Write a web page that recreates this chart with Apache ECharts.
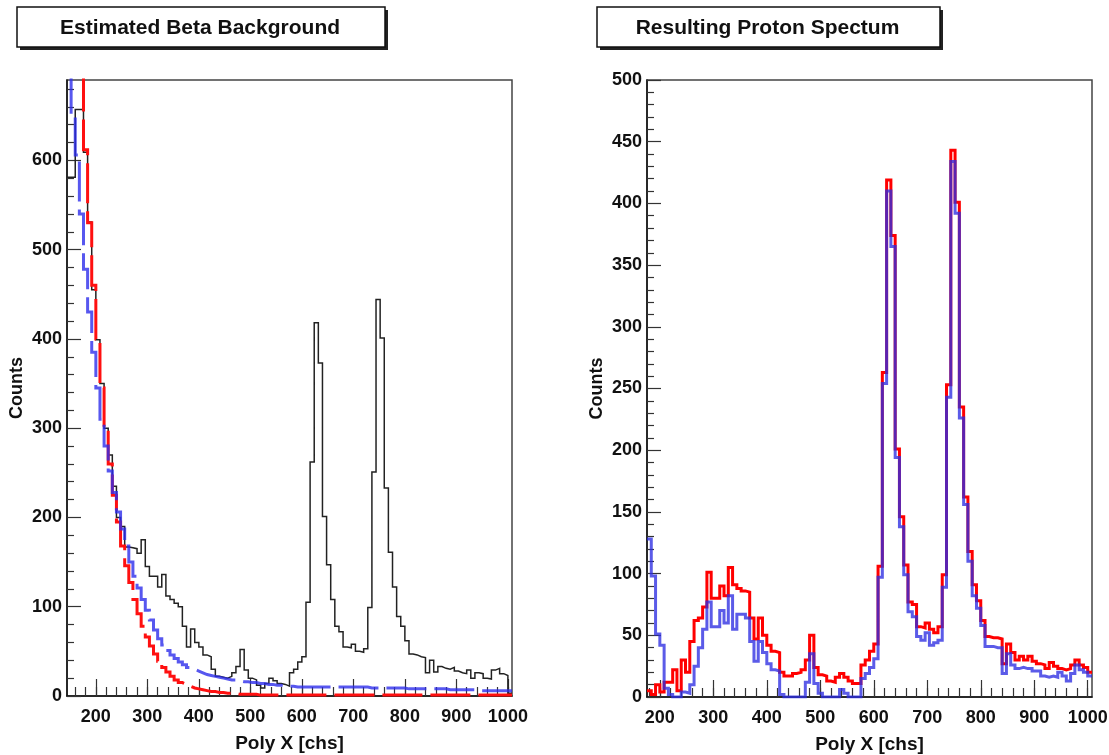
<!DOCTYPE html>
<html>
<head>
<meta charset="utf-8">
<script src="https://cdn.jsdelivr.net/npm/echarts@6/dist/echarts.min.js"></script>
<style>
  html, body { margin: 0; padding: 0; background: #ffffff; }
  #chart { width: 1109px; height: 755px; }
</style>
</head>
<body>
<div id="chart"></div>
<script>
// ---------- data (histograms, bin width 8 channels) ----------
const BIN_WIDTH = 8;
const LEFT_START = 144;   // first bin edge, left panel
const RIGHT_START = 176;  // first bin edge, right panel

const leftTitle = "Estimated Beta Background";
const rightTitle = "Resulting Proton Spectum";
const xAxisTitle = "Poly X [chs]";
const yAxisTitle = "Counts";

// measured spectrum (black), left panel
const leftCounts = [
  581, 581, 657, 657, 609, 531, 455, 399, 350, 300,
  270, 235, 200, 190, 167, 166, 165, 160, 175, 145,
  134, 134, 122, 136, 112, 108, 104, 100, 78, 55,
  75, 60, 55, 46, 44, 30, 22, 21, 20, 22,
  26, 33, 52, 29, 20, 18, 12, 9, 14, 20,
  17, 14, 13, 11, 26, 30, 38, 44, 105, 262,
  418, 373, 201, 147, 108, 78, 72, 55, 54, 58,
  50, 49, 53, 99, 251, 444, 401, 233, 161, 122,
  89, 78, 62, 47, 46, 44, 43, 26, 40, 27,
  33, 31, 30, 32, 28, 26, 25, 29, 20, 26,
  25, 20, 19, 29, 31, 25, 23, 3
];

// estimated background 1 (red dashed), left panel
const leftRedFit = [
  950, 850, 760, 700, 612, 530, 460, 400, 345, 300,
  260, 225, 195, 168, 146, 127, 108, 92, 78, 66,
  56, 47, 39, 32, 27, 22, 18, 15, 13, 11,
  9, 8, 7, 6, 5, 5, 4, 4, 3, 3,
  3, 2, 2, 2, 2, 2, 1, 1, 1, 1,
  1, 1, 1, 1, 1, 1, 1, 1, 1, 1,
  1, 1, 1, 1, 1, 1, 1, 1, 1, 1,
  1, 1, 1, 1, 1, 1, 1, 1, 1, 1,
  1, 1, 1, 1, 1, 1, 1, 1, 1, 1,
  1, 1, 1, 1, 1, 1, 1, 1, 1, 1,
  1, 1, 1, 1, 1, 1, 1, 1
];

// estimated background 2 (blue dashed), left panel
const leftBlueFit = [
  800, 650, 606, 540, 478, 430, 385, 345, 310, 280,
  252, 228, 206, 187, 168, 150, 134, 121, 108, 96,
  85, 74, 64, 57, 51, 46, 42, 38, 35, 32,
  30, 28, 26, 24, 23, 22, 21, 20, 19, 18,
  18, 17, 16, 16, 15, 15, 14, 14, 13, 13,
  12, 12, 11, 11, 11, 10, 10, 10, 10, 10,
  10, 10, 10, 10, 10, 10, 10, 10, 10, 10,
  10, 10, 10, 9, 9, 9, 9, 9, 9, 9,
  9, 9, 8, 8, 8, 8, 8, 8, 8, 8,
  8, 8, 7, 7, 7, 7, 7, 7, 7, 6,
  6, 6, 6, 6, 6, 6, 6, 6
];

// subtracted spectrum (red), right panel
const rightRed = [
  5, 2, 10, 4, 12, 12, 22, 5, 30, 20,
  45, 62, 64, 73, 101, 80, 80, 90, 82, 105,
  91, 88, 86, 85, 64, 47, 64, 50, 42, 37,
  36, 20, 17, 17, 19, 20, 22, 30, 50, 24,
  18, 17, 13, 12, 16, 19, 16, 13, 11, 11,
  26, 30, 37, 43, 106, 263, 419, 374, 201, 146,
  107, 77, 75, 57, 56, 60, 55, 52, 57, 99,
  253, 443, 401, 235, 162, 118, 91, 78, 62, 49,
  48, 48, 47, 27, 43, 36, 30, 33, 30, 33,
  29, 27, 26, 23, 28, 25, 23, 22, 23, 26,
  30, 26, 24, 20
];

// subtracted spectrum (blue), right panel
const rightBlue = [
  128, 98, 51, 42, 7, 2, 0, 0, 4, 3,
  10, 25, 40, 55, 77, 57, 57, 70, 60, 82,
  55, 67, 67, 64, 45, 29, 45, 36, 27, 22,
  21, 2, 0, 0, 0, 0, 0, 12, 35, 11,
  3, 0, 0, 0, 0, 6, 3, 0, 0, 0,
  15, 19, 24, 31, 97, 254, 410, 365, 194, 138,
  99, 69, 65, 49, 46, 52, 42, 44, 46, 89,
  243, 434, 392, 226, 156, 110, 82, 72, 58, 41,
  41, 40, 40, 19, 35, 26, 23, 24, 23, 23,
  21, 21, 17, 16, 17, 16, 20, 17, 13, 19,
  26, 22, 20, 17
];

// axis ranges and tick values
const leftXRange = [144, 1008];
const rightXRange = [176, 1008];
const leftYRange = [0, 690];
const rightYRange = [0, 500];
const xMajorTicks = [200, 300, 400, 500, 600, 700, 800, 900, 1000];
const leftXMinorTicks = [160,180,200,220,240,260,280,300,320,340,360,380,400,420,440,460,480,500,520,540,560,580,600,620,640,660,680,700,720,740,760,780,800,820,840,860,880,900,920,940,960,980,1000];
const rightXMinorTicks = [180,200,220,240,260,280,300,320,340,360,380,400,420,440,460,480,500,520,540,560,580,600,620,640,660,680,700,720,740,760,780,800,820,840,860,880,900,920,940,960,980,1000];
const leftYMajorTicks = [0, 100, 200, 300, 400, 500, 600];
const leftYMinorTicks = [20,40,60,80,120,140,160,180,220,240,260,280,320,340,360,380,420,440,460,480,520,540,560,580,620,640,660,680];
const rightYMajorTicks = [0, 50, 100, 150, 200, 250, 300, 350, 400, 450, 500];
const rightYMinorTicks = [10,20,30,40,60,70,80,90,110,120,130,140,160,170,180,190,210,220,230,240,260,270,280,290,310,320,330,340,360,370,380,390,410,420,430,440,460,470,480,490];

// ---------- helpers ----------
function toSteps(start, counts) {
  const pts = counts.map((v, i) => [start + i * BIN_WIDTH, v]);
  pts.push([start + counts.length * BIN_WIDTH, counts[counts.length - 1]]);
  return pts;
}

const FONT = "'Liberation Sans', Arial, Helvetica, sans-serif";
const labelStyle = { fontFamily: FONT, fontSize: 18, fontWeight: 'bold', color: '#111' };
const xNameStyle = { fontFamily: FONT, fontSize: 19, fontWeight: 'bold', color: '#111' };
const yNameStyle = { fontFamily: FONT, fontSize: 18, fontWeight: 'bold', color: '#111' };
const plainNumber = v => String(v);

function xMajor(grid, range, name) {
  return {
    type: 'value', gridIndex: grid, min: range[0], max: range[1], position: 'bottom',
    axisLine: { show: true, onZero: false, lineStyle: { color: '#111', width: 1.5 } },
    axisTick: { show: true, inside: true, length: 17, customValues: xMajorTicks, lineStyle: { color: '#333', width: 1.2 } },
    axisLabel: Object.assign({ customValues: xMajorTicks, margin: 12, formatter: plainNumber }, labelStyle),
    splitLine: { show: false },
    name: name, nameLocation: 'middle', nameGap: 38, nameTextStyle: xNameStyle, nameMoveOverlap: false
  };
}
function xMinor(grid, range, ticks) {
  return {
    type: 'value', gridIndex: grid, min: range[0], max: range[1], position: 'bottom',
    axisLine: { show: false, onZero: false },
    axisTick: { show: true, inside: true, length: 9, customValues: ticks, lineStyle: { color: '#333', width: 1.2 } },
    axisLabel: { show: false }, splitLine: { show: false }
  };
}
function yMajor(grid, range, ticks, name) {
  return {
    type: 'value', gridIndex: grid, min: range[0], max: range[1], position: 'left',
    axisLine: { show: true, onZero: false, lineStyle: { color: '#111', width: 1.5 } },
    axisTick: { show: true, inside: true, length: 14, customValues: ticks, lineStyle: { color: '#333', width: 1.2 } },
    axisLabel: Object.assign({ customValues: ticks, margin: 5, formatter: plainNumber }, labelStyle),
    splitLine: { show: false },
    name: name, nameLocation: 'middle', nameGap: 41, nameRotate: 90, nameTextStyle: yNameStyle, nameMoveOverlap: false
  };
}
function yMinor(grid, range, ticks) {
  return {
    type: 'value', gridIndex: grid, min: range[0], max: range[1], position: 'left',
    axisLine: { show: false, onZero: false },
    axisTick: { show: true, inside: true, length: 7, customValues: ticks, lineStyle: { color: '#333', width: 1.2 } },
    axisLabel: { show: false }, splitLine: { show: false }
  };
}
function hist(name, xi, yi, start, counts, color, width, dash) {
  return {
    name: name, type: 'line', xAxisIndex: xi, yAxisIndex: yi,
    data: toSteps(start, counts), step: 'end', symbol: 'none', showSymbol: false,
    clip: true, silent: true, animation: false,
    lineStyle: { color: color, width: width, type: dash || 'solid', cap: 'butt', join: 'miter' }
  };
}
function titleBox(x, y, w, h, text) {
  return {
    type: 'group', children: [
      { type: 'rect', shape: { x: x + 3, y: y + 3, width: w, height: h }, style: { fill: '#222' } },
      { type: 'rect', shape: { x: x, y: y, width: w, height: h }, style: { fill: '#fff', stroke: '#111', lineWidth: 1.5 } },
      { type: 'text', x: x + w / 2 - 1, y: y + h / 2 + 1, style: { text: text, fill: '#111', font: 'bold 21px ' + FONT, align: 'center', verticalAlign: 'middle' } }
    ]
  };
}

const chart = echarts.init(document.getElementById('chart'), null, { renderer: 'canvas' });
chart.setOption({
  backgroundColor: '#ffffff',
  animation: false,
  textStyle: { fontFamily: FONT },
  grid: [
    { left: 67, top: 80, width: 445, height: 616, show: true, borderColor: '#444', borderWidth: 1.5, backgroundColor: 'transparent', containLabel: false, outerBoundsMode: 'none' },
    { left: 647, top: 80, width: 445, height: 617, show: true, borderColor: '#444', borderWidth: 1.5, backgroundColor: 'transparent', containLabel: false, outerBoundsMode: 'none' }
  ],
  xAxis: [
    xMajor(0, leftXRange, xAxisTitle),
    xMinor(0, leftXRange, leftXMinorTicks),
    xMajor(1, rightXRange, xAxisTitle),
    xMinor(1, rightXRange, rightXMinorTicks)
  ],
  yAxis: [
    yMajor(0, leftYRange, leftYMajorTicks, yAxisTitle),
    yMinor(0, leftYRange, leftYMinorTicks),
    yMajor(1, rightYRange, rightYMajorTicks, yAxisTitle),
    yMinor(1, rightYRange, rightYMinorTicks)
  ],
  series: [
    hist('data', 0, 0, LEFT_START, leftCounts, '#222', 1.5),
    hist('background A', 0, 0, LEFT_START, leftRedFit, '#ff1010', 3, [40, 8]),
    hist('background B', 0, 0, LEFT_START, leftBlueFit, 'rgba(45,45,235,0.8)', 3, [40, 8]),
    hist('spectrum A', 2, 2, RIGHT_START, rightRed, '#ff0000', 3),
    hist('spectrum B', 2, 2, RIGHT_START, rightBlue, 'rgba(45,45,225,0.78)', 3)
  ],
  graphic: [
    titleBox(17, 7, 368, 40, leftTitle),
    titleBox(597, 7, 343, 40, rightTitle)
  ]
});
</script>
</body>
</html>
